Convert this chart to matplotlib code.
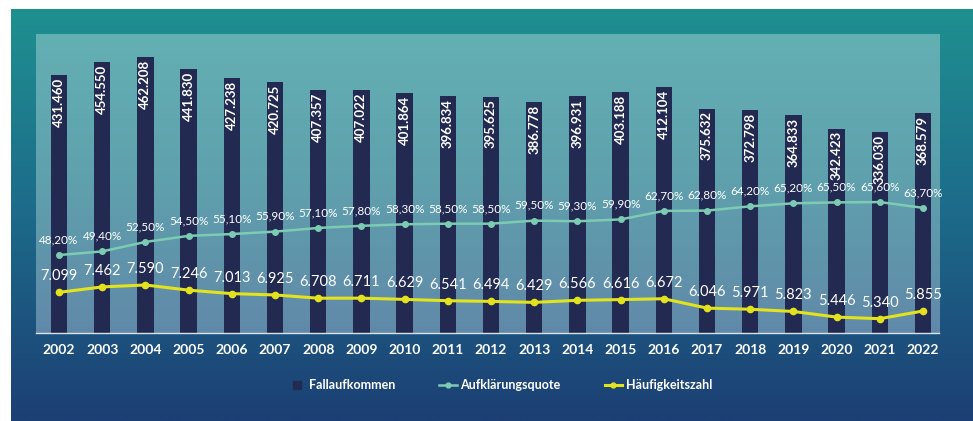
import numpy as np
import matplotlib
matplotlib.use("Agg")
import matplotlib.pyplot as plt
from matplotlib.colors import LinearSegmentedColormap
from matplotlib.lines import Line2D

plt.rcParams["font.family"] = ["Lato", "DejaVu Sans"]

years = [str(y) for y in range(2002, 2023)]
fallaufkommen = [431460, 454550, 462208, 441830, 427238, 420725, 407357, 407022, 401864,
                 396834, 395625, 386778, 396931, 403188, 412104, 375632, 372798, 364833,
                 342423, 336030, 368579]
aufklaerung = [48.2, 49.4, 52.5, 54.5, 55.1, 55.9, 57.1, 57.8, 58.3, 58.5, 58.5, 59.5, 59.3,
               59.9, 62.7, 62.8, 64.2, 65.2, 65.5, 65.6, 63.7]
haeufigkeit = [7099, 7462, 7590, 7246, 7013, 6925, 6708, 6711, 6629, 6541, 6494, 6429, 6566,
               6616, 6672, 6046, 5971, 5823, 5446, 5340, 5855]

def de_int(v):
    return f"{v:,}".replace(",", ".")

def de_pct(v):
    return f"{v:.2f}".replace(".", ",") + "%"

W, H = 973, 421
fig = plt.figure(figsize=(W / 100, H / 100), dpi=100)
fig.patch.set_facecolor("white")

# outer gradient panel
bg = fig.add_axes([11 / W, 0, 1 - 11 / W, (H - 9) / H])
bg.set_axis_off()
outer_cmap = LinearSegmentedColormap.from_list("outer", ["#1f9090", "#1d6a8a", "#1c3f74"])
grad = np.linspace(0, 1, 256).reshape(-1, 1)
bg.imshow(grad, aspect="auto", cmap=outer_cmap, extent=[0, 1, 0, 1], origin="upper")
bg.set_xlim(0, 1)
bg.set_ylim(0, 1)

left, right = 36 / W, 939 / W
bottom, top = (H - 333) / H, (H - 34) / H
ax = fig.add_axes([left, bottom, right - left, top - bottom])
ax.set_facecolor("none")
inner_cmap = LinearSegmentedColormap.from_list("inner", ["#63b0b3", "#5fa0ad", "#6189a9"])
ax.imshow(grad, aspect="auto", cmap=inner_cmap, extent=[0, 1, 0, 1], origin="upper",
          transform=ax.transAxes, zorder=0)

x = np.arange(len(years))
bar_color = "#222a52"
ax.bar(x, fallaufkommen, width=0.38, color=bar_color, zorder=2)
ax.set_xlim(-0.532, 20.37)
ax.set_ylim(0, 500725)
for xi, v in zip(x, fallaufkommen):
    ax.text(xi, v - 4500, de_int(v), rotation=90, ha="center", va="top", color="white",
            fontsize=9.5, fontweight="bold", zorder=3)

ax.set_xticks(x)
ax.set_xticklabels(years, color="white", fontsize=10, fontweight="bold")
ax.tick_params(axis="x", length=0, pad=8)
ax.set_yticks([])
for s in ["top", "left", "right"]:
    ax.spines[s].set_visible(False)
ax.spines["bottom"].set_color("#d8e4ea")
ax.spines["bottom"].set_linewidth(1.0)
ax.spines["bottom"].set_zorder(5)

q_color = "#7ccbb2"
ax2 = ax.twinx()
ax2.set_ylim(22.6, 120.8)
ax2.plot(x, aufklaerung, color=q_color, lw=1.8, marker="o", ms=4, zorder=4)
for xi, v in zip(x, aufklaerung):
    ax2.text(xi, v + 3.2, de_pct(v), ha="center", va="bottom", color="white", fontsize=8.5,
             zorder=5)
ax2.axis("off")

h_color = "#e3e21e"
ax3 = ax.twinx()
ax3.set_ylim(4385, 24345)
ax3.plot(x, haeufigkeit, color=h_color, lw=2.2, marker="o", ms=4.5, zorder=4)
for xi, v in zip(x, haeufigkeit):
    ax3.text(xi, v + 600, de_int(v), ha="center", va="bottom", color="white", fontsize=10.5,
             zorder=5)
ax3.axis("off")

handles = [
    Line2D([], [], marker="s", linestyle="none", color=bar_color, markersize=6),
    Line2D([], [], color=q_color, lw=1.8, marker="o", ms=3.5),
    Line2D([], [], color=h_color, lw=2.2, marker="o", ms=3.5),
]
labels = ["Fallaufkommen", "Aufklärungsquote", "Häufigkeitszahl"]
fig.legend(handles, labels, loc="center", bbox_to_anchor=(500 / W, 1 - 385 / H), ncol=3,
           frameon=False, labelcolor="white", handlelength=1.4,
           handletextpad=0.3, columnspacing=3.5, prop={"weight": "bold", "size": 9})

fig.savefig("out.png", dpi=100)
